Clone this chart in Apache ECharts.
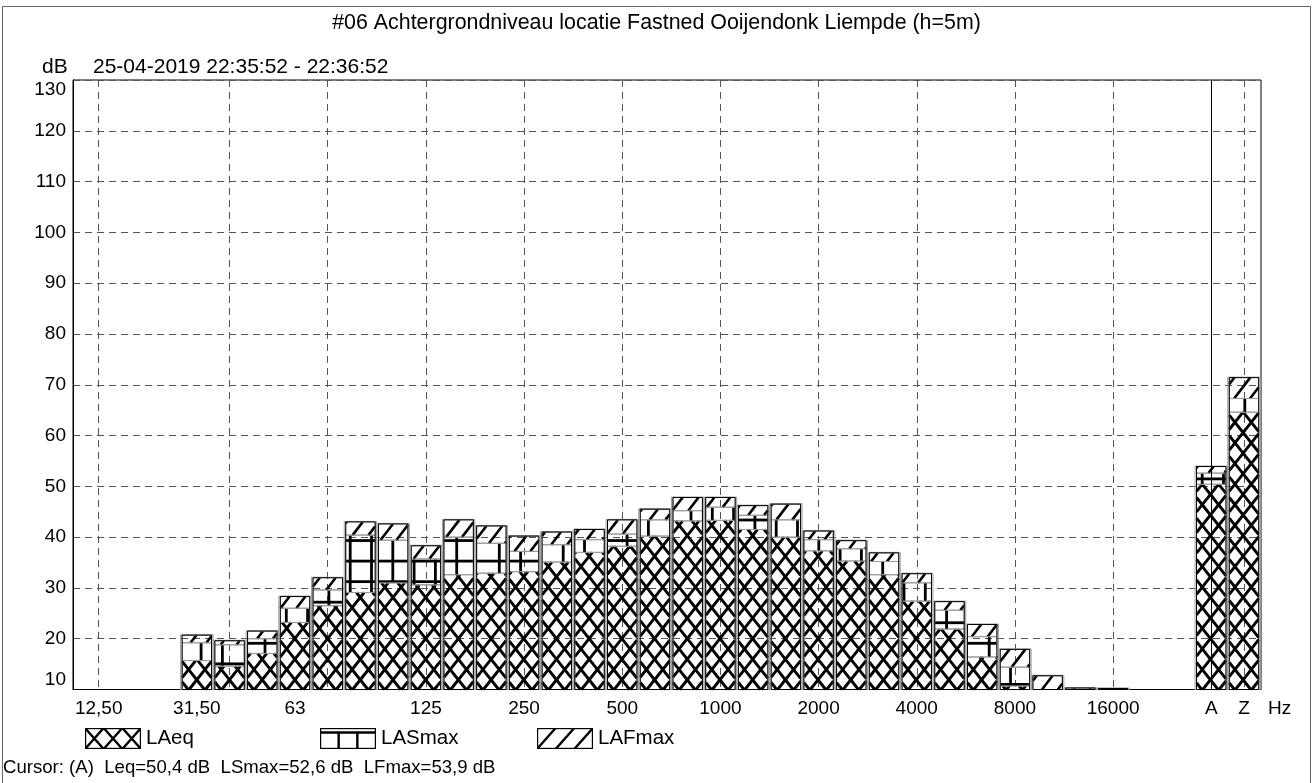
<!DOCTYPE html>
<html><head><meta charset="utf-8">
<script src="https://cdn.jsdelivr.net/npm/echarts@6/dist/echarts.min.js"></script>
<style>html,body{margin:0;padding:0;background:#fff}#c{width:1313px;height:783px}</style>
</head><body><div id="c"></div>
<script>
const TITLE = '#06 Achtergrondniveau locatie Fastned Ooijendonk Liempde (h=5m)';
const PERIOD = '25-04-2019 22:35:52 - 22:36:52';
const Y_UNIT = 'dB';
const bands = ['12,50','16','20','25','31,50','40','50','63','80','100','125','160','200','250','315','400','500','630','800','1000','1250','1600','2000','2500','3150','4000','5000','6300','8000','10000','12500','16000','20000','','A','Z'];
// grid lines sit on these bands
const gridBands = ['12,50','31,50','63','125','250','500','1000','2000','4000','8000','16000','A','Z'];
// tick labels and the band index under which each label is printed
const tickLabels = ['12,50','31,50','63','125','250','500','1000','2000','4000','8000','16000','A','Z'];
const tickLabelPos = [0, 3, 6, 10, 13, 16, 19, 22, 25, 28, 31, 34, 35];
const LAeq   = [null,null,null,15.7,14.6,17.1,23.2,26.5,29.1,31.0,30.6,32.6,32.9,33.2,35.1,37.0,38.2,40.2,43.2,43.3,41.5,40.0,37.3,35.3,32.6,27.4,21.9,16.4,10.7,8.0,6.0,5.0,null,null,50.4,64.6];
const LASmax = [null,null,null,19.2,18.8,20.0,26.0,29.6,40.4,39.4,35.7,40.0,38.8,37.2,38.5,39.5,40.6,43.4,45.2,45.9,44.3,43.4,39.5,37.7,35.2,31.0,25.6,20.4,14.4,9.5,7.0,8.0,null,null,52.6,67.3];
const LAFmax = [null,null,null,20.7,19.6,21.5,28.3,32.0,43.0,42.6,38.3,43.4,42.2,40.2,41.0,41.5,43.4,45.5,47.8,47.8,46.2,46.5,41.2,39.3,36.9,32.8,27.3,22.8,17.9,12.7,10.3,10.2,null,null,53.9,71.4];
const cursorBand = 'A';
const yMin = 10, yMax = 130;

const FONT = "'Liberation Sans', Arial, sans-serif";
const gridIdx = gridBands.map(l => bands.indexOf(l));
const ci = bands.indexOf(cursorBand);
const fmt = v => v.toFixed(1).replace('.', ',');
const cursorText = `Cursor: (${cursorBand})  Leq=${fmt(LAeq[ci])} dB  LSmax=${fmt(LASmax[ci])} dB  LFmax=${fmt(LAFmax[ci])} dB`;

const HATCH_H = 20.6;
const CROSS_S = 1.26;
const DIAG_S = -1.3;
const GRID_PX = 21.3, GRID_PY = 20.55, GRID_X0 = 9.4, GRID_Y0 = 6.25;

function regionRect(api, lo, hi) {
  const idx = api.value(0);
  const a = api.coord([idx, Math.max(lo, yMin)]);
  const b = api.coord([idx, Math.max(hi, yMin)]);
  const bw = api.size([1, 0])[0] * 0.9;
  return { x: a[0] - bw / 2, y: b[1], w: bw, h: a[1] - b[1] };
}
function diagLines(r, s, P, xr, yr, out, lw) {
  const cs = [[r.x, r.y], [r.x + r.w, r.y], [r.x, r.y + r.h], [r.x + r.w, r.y + r.h]];
  let bmin = Infinity, bmax = -Infinity;
  cs.forEach(([x, y]) => { const b = (y - yr) - s * (x - xr); bmin = Math.min(bmin, b); bmax = Math.max(bmax, b); });
  for (let k = Math.ceil(bmin / P); k <= Math.floor(bmax / P); k++) {
    const b = k * P;
    const x1 = xr + (r.y - yr - b) / s, x2 = xr + (r.y + r.h - yr - b) / s;
    const xa = Math.max(r.x, Math.min(x1, x2)), xb = Math.min(r.x + r.w, Math.max(x1, x2));
    if (xb - xa > 0.6) {
      out.push({ type: 'line', shape: { x1: xa, y1: yr + b + s * (xa - xr), x2: xb, y2: yr + b + s * (xb - xr) },
        style: { stroke: '#000', lineWidth: lw } });
    }
  }
}
function gridLines(r, out) {
  for (let x = GRID_X0 + Math.ceil((r.x - GRID_X0) / GRID_PX) * GRID_PX; x <= r.x + r.w; x += GRID_PX) {
    if (x - r.x < 1.5 || r.x + r.w - x < 1.5) continue;
    out.push({ type: 'line', shape: { x1: x, y1: r.y, x2: x, y2: r.y + r.h }, style: { stroke: '#000', lineWidth: 2.8 } });
  }
  for (let y = GRID_Y0 + Math.ceil((r.y - GRID_Y0) / GRID_PY) * GRID_PY; y <= r.y + r.h; y += GRID_PY) {
    if (y - r.y < 1 || r.y + r.h - y < 1) continue;
    out.push({ type: 'line', shape: { x1: r.x, y1: y, x2: r.x + r.w, y2: y }, style: { stroke: '#000', lineWidth: 2.8 } });
  }
}
function makeRender(kind) {
  return function (params, api) {
    const lo = api.value(1), hi = api.value(2);
    const r = regionRect(api, lo, hi);
    const children = [];
    const xr = api.coord([0, yMin])[0];
    if (r.h > 0.5) {
      if (kind === 'eq') {
        diagLines(r, CROSS_S, HATCH_H, xr, 0, children, 2.9);
        diagLines(r, -CROSS_S, HATCH_H, xr, 0, children, 2.9);
      } else if (kind === 'as') {
        gridLines(r, children);
      } else {
        diagLines(r, DIAG_S, HATCH_H, xr, 0, children, 2.6);
      }
      children.push({ type: 'rect', shape: { x: r.x, y: r.y, width: r.w, height: r.h },
        style: { fill: null, stroke: '#9a9a9a', lineWidth: 1 } });
    }
    if (kind === 'af') {
      const full = regionRect(api, yMin, hi);
      if (full.h > 0.3) {
        children.push({ type: 'rect', shape: { x: full.x - 1.5, y: full.y - 0.5, width: full.w + 3, height: full.h + 0.5 },
          style: { fill: null, stroke: '#a0a0a0', lineWidth: 1 } });
        children.push({ type: 'rect', shape: { x: full.x, y: full.y, width: full.w, height: full.h },
          style: { fill: null, stroke: '#000', lineWidth: 1 } });
      }
    }
    return { type: 'group', children };
  };
}

function iconURL(kind) {
  const W = 56, H = 21;
  const c = document.createElement('canvas'); c.width = W; c.height = H;
  const g = c.getContext('2d');
  g.fillStyle = '#fff'; g.fillRect(0, 0, W, H);
  g.save(); g.beginPath(); g.rect(0, 0, W, H); g.clip();
  g.strokeStyle = '#000'; g.lineWidth = 2.4; g.beginPath();
  const w = W / 3;
  for (let k = 0; k < 3; k++) {
    if (kind === 'eq') { g.moveTo(k * w, 0); g.lineTo((k + 1) * w, H); g.moveTo((k + 1) * w, 0); g.lineTo(k * w, H); }
    if (kind === 'af') { g.moveTo(k * w, H); g.lineTo((k + 1) * w, 0); }
  }
  if (kind === 'as') { g.moveTo(0, 4.5); g.lineTo(W, 4.5); g.moveTo(w, 4.5); g.lineTo(w, H); g.moveTo(2 * w, 4.5); g.lineTo(2 * w, H); }
  g.stroke(); g.restore();
  g.lineWidth = 1.2; g.strokeStyle = '#000'; g.strokeRect(0.6, 0.6, W - 1.2, H - 1.2);
  return 'image://' + c.toDataURL();
}

const idxs = bands.map((b, i) => i).filter(i => LAFmax[i] != null);
const dataEq = idxs.map(i => [i, yMin, LAeq[i]]);
const dataAs = idxs.map(i => [i, LAeq[i], LASmax[i]]);
const dataAf = idxs.map(i => [i, LASmax[i], LAFmax[i]]);

const chart = echarts.init(document.getElementById('c'), null, { renderer: 'canvas' });
const legendCommon = { orient: 'horizontal', itemWidth: 56, itemHeight: 21, itemGap: 10, selectedMode: false,
  textStyle: { fontSize: 20.5, color: '#000', fontFamily: FONT }, padding: 0 };
const ts = (size) => ({ fontSize: size, fontWeight: 'normal', color: '#000', fontFamily: FONT });
chart.setOption({
  animation: false,
  backgroundColor: '#fff',
  textStyle: { fontFamily: FONT, color: '#000' },
  title: [
    { text: TITLE, left: 'center', top: 13, padding: 0, textStyle: ts(21.4) },
    { text: Y_UNIT, left: 42, top: 57, padding: 0, textStyle: ts(21) },
    { text: PERIOD, left: 93, top: 57, padding: 0, textStyle: ts(21) },
    { text: cursorText, left: 3, top: 758, padding: 0, textStyle: ts(18.6) }
  ],
  legend: [
    Object.assign({ left: 85, top: 728, data: [{ name: 'LAeq', icon: iconURL('eq') }] }, legendCommon),
    Object.assign({ left: 320, top: 728, data: [{ name: 'LASmax', icon: iconURL('as') }] }, legendCommon),
    Object.assign({ left: 537, top: 728, data: [{ name: 'LAFmax', icon: iconURL('af') }] }, legendCommon)
  ],
  graphic: [{ type: 'rect', silent: true, shape: { x: 2.5, y: 6.5, width: 1308, height: 790 },
    style: { fill: null, stroke: '#666', lineWidth: 1 } }],
  grid: { left: 73, right: 52, top: 80, bottom: 93.5, show: true, borderColor: '#000', borderWidth: 1,
    backgroundColor: 'transparent', containLabel: false, outerBoundsMode: 'none' },
  xAxis: {
    type: 'value', min: -0.785, max: 35.52,
    name: 'Hz', nameLocation: 'end', nameGap: 7, nameMoveOverlap: false,
    nameTextStyle: { fontSize: 19, color: '#000', fontFamily: FONT, align: 'left', verticalAlign: 'top', padding: [10, 0, 0, 0] },
    axisLine: { show: true, onZero: false, lineStyle: { color: '#000', width: 1 } },
    axisTick: { show: false, customValues: gridIdx },
    axisLabel: { customValues: tickLabelPos, margin: 10, fontSize: 19, color: '#000', fontFamily: FONT,
      formatter: v => tickLabels[tickLabelPos.indexOf(Math.round(v))] },
    splitLine: { show: true, lineStyle: { type: [7, 5], color: '#555', width: 1 } }
  },
  yAxis: {
    type: 'value', min: yMin, max: yMax, interval: 10,
    axisLine: { show: true, onZero: false, lineStyle: { color: '#000', width: 1 } },
    axisTick: { show: false },
    axisLabel: { margin: 7, fontSize: 19, color: '#000', fontFamily: FONT,
      verticalAlignMinLabel: 'bottom', verticalAlignMaxLabel: 'top' },
    splitLine: { show: true, lineStyle: { type: [7, 5], color: '#555', width: 1 } }
  },
  series: [
    { name: 'LAeq', type: 'custom', renderItem: makeRender('eq'), data: dataEq, encode: { x: 0, y: [1, 2] },
      itemStyle: { color: '#fff', borderColor: '#000' }, silent: true },
    { name: 'LASmax', type: 'custom', renderItem: makeRender('as'), data: dataAs, encode: { x: 0, y: [1, 2] },
      itemStyle: { color: '#fff', borderColor: '#000' }, silent: true },
    { name: 'LAFmax', type: 'custom', renderItem: makeRender('af'), data: dataAf, encode: { x: 0, y: [1, 2] },
      itemStyle: { color: '#fff', borderColor: '#000' }, silent: true,
      markLine: { silent: true, symbol: 'none', label: { show: false },
        lineStyle: { type: 'solid', color: '#000', width: 1 }, data: [{ xAxis: ci }] } }
  ]
});
</script></body></html>
